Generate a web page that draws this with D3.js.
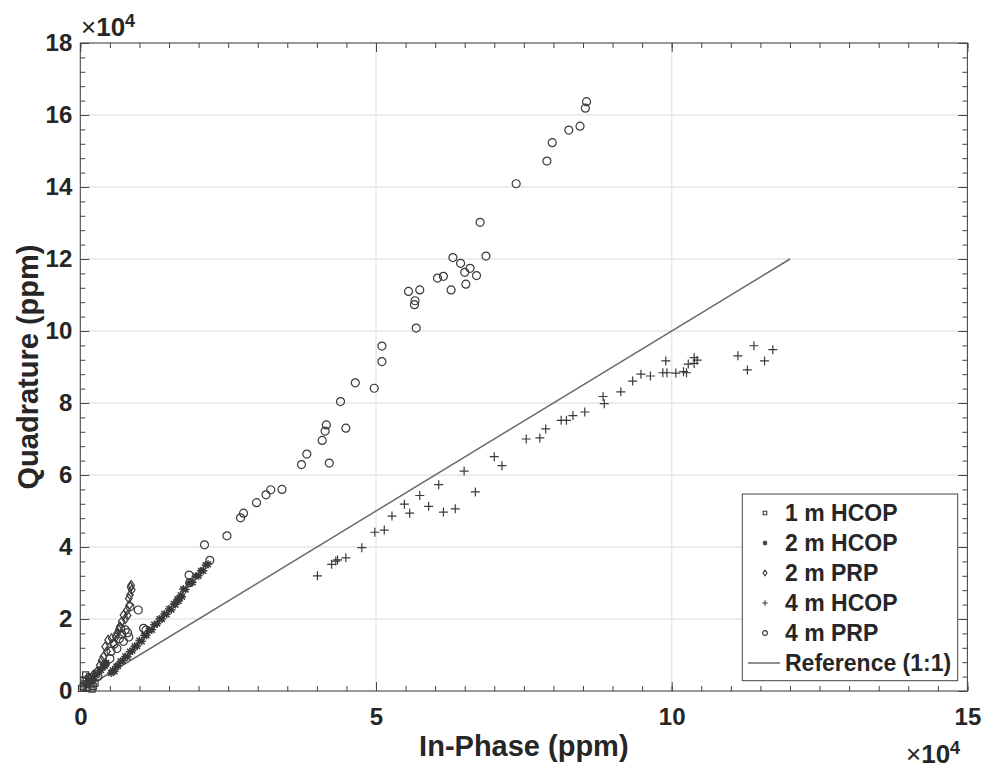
<!DOCTYPE html>
<html>
<head>
<meta charset="utf-8">
<script src="https://cdn.jsdelivr.net/npm/d3@7/dist/d3.min.js"></script>
<style>
  body { margin: 0; background: #fff; }
  text { font-family: "Liberation Sans", Arial, sans-serif; fill: #262626; }
</style>
</head>
<body>
<svg id="chart" width="986" height="770"></svg>
<script>
// all values in units of 1e4 ppm (axes show x10^4)
const hcop1X = [0.02, 0.05, 0.08, 0.10, 0.12, 0.14, 0.16, 0.18, 0.19, 0.22, 0.25, 0.09, 0.06, 0.20];
const hcop1Y = [0.07, 0.12, 0.20, 0.28, 0.10, 0.35, 0.40, 0.17, 0.30, 0.12, 0.22, 0.45, 0.30, 0.05];

const hcop2X = [0.12, 0.18, 0.22, 0.26, 0.29, 0.32, 0.35, 0.38, 0.41, 0.44, 0.52, 0.55, 0.58, 0.61, 0.64, 0.68, 0.72, 0.76, 0.80, 0.84, 0.88, 0.92, 0.96, 1.00, 1.04, 1.08, 1.12, 1.16, 1.21, 1.25, 1.30, 1.34, 1.38, 1.42, 1.46, 1.50, 1.54, 1.58, 1.61, 1.64, 1.66, 1.68, 1.70, 1.72, 1.74, 1.78, 1.84, 1.90, 1.95, 2.00, 2.04, 2.08, 2.12, 2.16];
const hcop2Y = [0.20, 0.30, 0.33, 0.44, 0.47, 0.57, 0.58, 0.67, 0.70, 0.78, 0.50, 0.58, 0.55, 0.68, 0.70, 0.82, 0.84, 0.96, 0.95, 1.09, 1.12, 1.24, 1.25, 1.40, 1.38, 1.54, 1.55, 1.68, 1.70, 1.84, 1.87, 2.00, 2.00, 2.14, 2.13, 2.28, 2.26, 2.42, 2.40, 2.55, 2.50, 2.58, 2.66, 2.62, 2.83, 2.82, 3.00, 3.02, 3.19, 3.20, 3.34, 3.34, 3.50, 3.52];

const prp2X = [0.10, 0.16, 0.22, 0.28, 0.33, 0.36, 0.39, 0.42, 0.45, 0.47, 0.53, 0.56, 0.60, 0.62, 0.65, 0.67, 0.70, 0.73, 0.76, 0.79, 0.80, 0.82, 0.83, 0.84, 0.86, 0.87, 0.85];
const prp2Y = [0.20, 0.35, 0.45, 0.54, 0.72, 0.85, 0.95, 1.23, 1.10, 1.42, 1.46, 1.32, 1.50, 1.60, 1.70, 1.79, 1.93, 2.11, 2.00, 2.25, 2.10, 2.57, 2.39, 2.67, 2.94, 2.81, 2.88];

const hcop4X = [4.01, 4.25, 4.32, 4.35, 4.49, 4.76, 4.98, 5.14, 5.27, 5.48, 5.57, 5.74, 5.89, 6.06, 6.14, 6.34, 6.49, 6.68, 7.00, 7.13, 7.54, 7.77, 7.87, 8.13, 8.22, 8.33, 8.53, 8.84, 8.86, 9.14, 9.34, 9.48, 9.64, 9.85, 9.90, 9.92, 10.07, 10.20, 10.25, 10.28, 10.38, 10.38, 10.43, 11.12, 11.39, 11.28, 11.57, 11.71];
const hcop4Y = [3.20, 3.52, 3.61, 3.64, 3.70, 3.98, 4.41, 4.47, 4.86, 5.19, 4.94, 5.43, 5.13, 5.73, 4.97, 5.06, 6.11, 5.53, 6.51, 6.26, 7.00, 7.03, 7.28, 7.52, 7.52, 7.65, 7.75, 8.18, 7.98, 8.31, 8.61, 8.80, 8.75, 8.84, 9.17, 8.84, 8.83, 8.87, 8.84, 9.08, 9.26, 9.10, 9.19, 9.31, 9.59, 8.92, 9.17, 9.48];

const prp4X = [0.30, 0.42, 0.50, 0.52, 0.57, 0.62, 0.66, 0.70, 0.73, 0.76, 0.80, 0.68, 0.82, 1.07, 0.98, 0.84, 1.11, 1.84, 1.85, 2.19, 2.10, 2.48, 2.71, 2.76, 2.98, 3.14, 3.22, 3.41, 3.74, 3.83, 4.21, 4.09, 4.14, 4.16, 4.49, 4.40, 4.97, 4.65, 5.10, 5.10, 5.68, 5.65, 5.66, 5.74, 5.55, 6.14, 6.04, 6.27, 6.52, 6.70, 6.50, 6.59, 6.43, 6.30, 6.86, 6.76, 7.37, 7.89, 7.98, 8.26, 8.45, 8.54, 8.56];
const prp4Y = [0.40, 0.75, 0.90, 1.10, 1.30, 1.18, 1.45, 1.58, 1.38, 1.70, 1.62, 1.75, 1.50, 1.74, 2.25, 2.34, 1.69, 3.22, 3.01, 3.63, 4.06, 4.31, 4.81, 4.94, 5.23, 5.45, 5.59, 5.60, 6.29, 6.58, 6.33, 6.96, 7.22, 7.39, 7.30, 8.04, 8.41, 8.56, 9.15, 9.58, 10.08, 10.73, 10.84, 11.14, 11.10, 11.52, 11.47, 11.14, 11.30, 11.54, 11.63, 11.74, 11.88, 12.04, 12.08, 13.02, 14.09, 14.72, 15.23, 15.58, 15.69, 16.19, 16.37];

const refX = [0, 12];
const refY = [0, 12];

const seriesNames = ['1 m HCOP', '2 m HCOP', '2 m PRP', '4 m HCOP', '4 m PRP'];
const xTicks = [0, 5, 10, 15];
const yTicks = [0, 2, 4, 6, 8, 10, 12, 14, 16, 18];

const width = 986;
const height = 770;
const margin = { top: 43, right: 18.6, bottom: 79, left: 80.3 };

const svg = d3.select('#chart');
svg.append('rect').attr('width', width).attr('height', height).attr('fill', '#fff');

const x = d3.scaleLinear().domain([0, 15]).range([margin.left, width - margin.right]);
const y = d3.scaleLinear().domain([0, 18]).range([height - margin.bottom, margin.top]);

const xMinor = d3.range(0, 15.01, 0.5);
const yMinor = d3.range(0, 18.01, 0.4);

// grid
svg.append('g').selectAll('line').data(xTicks).enter().append('line')
  .attr('x1', (d) => x(d)).attr('x2', (d) => x(d))
  .attr('y1', y(0)).attr('y2', y(18))
  .attr('stroke', '#e6e6e6').attr('stroke-width', 1.3);
svg.append('g').selectAll('line').data(yTicks).enter().append('line')
  .attr('x1', x(0)).attr('x2', x(15))
  .attr('y1', (d) => y(d)).attr('y2', (d) => y(d))
  .attr('stroke', '#e6e6e6').attr('stroke-width', 1.3);

// axes, ticks pointing inward on all four sides
function styleAxis(g) {
  g.select('.domain').remove();
  g.selectAll('line').attr('stroke', '#444').attr('stroke-width', 1);
  g.selectAll('text').attr('font-size', 24).attr('font-weight', 'bold').attr('fill', '#262626');
}
const H = height - margin.bottom;
const W = width - margin.right;

svg.append('g').attr('transform', `translate(0,${H})`)
  .call(d3.axisBottom(x).tickValues(xMinor).tickSize(-5).tickFormat(''))
  .call(styleAxis);
svg.append('g').attr('transform', `translate(0,${H})`)
  .call(d3.axisBottom(x).tickValues(xTicks).tickSize(-9).tickPadding(17).tickFormat(d3.format('d')))
  .call(styleAxis);
svg.append('g').attr('transform', `translate(0,${margin.top})`)
  .call(d3.axisTop(x).tickValues(xMinor).tickSize(-5).tickFormat(''))
  .call(styleAxis);
svg.append('g').attr('transform', `translate(0,${margin.top})`)
  .call(d3.axisTop(x).tickValues(xTicks).tickSize(-9).tickFormat(''))
  .call(styleAxis);
svg.append('g').attr('transform', `translate(${margin.left},0)`)
  .call(d3.axisLeft(y).tickValues(yMinor).tickSize(-5).tickFormat(''))
  .call(styleAxis);
svg.append('g').attr('transform', `translate(${margin.left},0)`)
  .call(d3.axisLeft(y).tickValues(yTicks).tickSize(-9).tickPadding(8).tickFormat(d3.format('d')))
  .call(styleAxis);
svg.append('g').attr('transform', `translate(${W},0)`)
  .call(d3.axisRight(y).tickValues(yMinor).tickSize(-5).tickFormat(''))
  .call(styleAxis);
svg.append('g').attr('transform', `translate(${W},0)`)
  .call(d3.axisRight(y).tickValues(yTicks).tickSize(-9).tickFormat(''))
  .call(styleAxis);

// box
svg.append('rect')
  .attr('x', x(0)).attr('y', y(18))
  .attr('width', x(15) - x(0)).attr('height', y(0) - y(18))
  .attr('fill', 'none').attr('stroke', '#444').attr('stroke-width', 1);

// exponent labels
function expLabel(px, py) {
  const t = svg.append('text').attr('x', px).attr('y', py).attr('font-size', 26).attr('font-weight', 'bold');
  t.append('tspan').attr('font-weight', 'normal').text('×');
  t.append('tspan').text('10');
  t.append('tspan').attr('font-size', 18).attr('dy', -9).text('4');
}
expLabel(81, 36);
expLabel(906, 763);

// axis titles
svg.append('text')
  .attr('x', (x(0) + x(15)) / 2).attr('y', 756)
  .attr('text-anchor', 'middle').attr('font-size', 29).attr('font-weight', 'bold')
  .text('In-Phase (ppm)');
svg.append('text')
  .attr('transform', `translate(38,${(y(0) + y(18)) / 2}) rotate(-90)`)
  .attr('text-anchor', 'middle').attr('font-size', 29).attr('font-weight', 'bold')
  .text('Quadrature (ppm)');

// reference line
const line = d3.line().x((d) => x(d[0])).y((d) => y(d[1]));
svg.append('path')
  .datum(refX.map((v, i) => [v, refY[i]]))
  .attr('d', line)
  .attr('fill', 'none').attr('stroke', '#6a6a6a').attr('stroke-width', 1.5);

// marker shapes
const markerPath = {
  square: (s) => `M${-3 * s},${-3 * s}h${6 * s}v${6 * s}h${-6 * s}Z`,
  asterisk: (s) => `M${-4 * s},0H${4 * s}M0,${-4 * s}V${4 * s}M${-2.9 * s},${-2.9 * s}L${2.9 * s},${2.9 * s}M${-2.9 * s},${2.9 * s}L${2.9 * s},${-2.9 * s}`,
  diamond: (s) => `M0,${-4.6 * s}L${3.3 * s},0L0,${4.6 * s}L${-3.3 * s},0Z`,
  plus: (s) => `M${-4.5 * s},0H${4.5 * s}M0,${-4.5 * s}V${4.5 * s}`,
  circle: (s) => d3.symbol(d3.symbolCircle, Math.PI * 4 * s * 4 * s)(),
};
const markerTypes = ['square', 'asterisk', 'diamond', 'plus', 'circle'];
const seriesX = [hcop1X, hcop2X, prp2X, hcop4X, prp4X];
const seriesY = [hcop1Y, hcop2Y, prp2Y, hcop4Y, prp4Y];

seriesX.forEach((xs, k) => {
  const pts = xs.map((v, i) => [v, seriesY[k][i]]);
  svg.append('g').selectAll('path').data(pts).enter().append('path')
    .attr('transform', (d) => `translate(${x(d[0])},${y(d[1])})`)
    .attr('d', markerPath[markerTypes[k]](1))
    .attr('fill', 'none')
    .attr('stroke', '#3a3a3a')
    .attr('stroke-width', markerTypes[k] === 'asterisk' ? 1.5 : 1.2);
});

// legend
const lg = svg.append('g');
lg.append('rect')
  .attr('x', 742.3).attr('y', 494).attr('width', 215.4).attr('height', 186.7)
  .attr('fill', '#fff').attr('stroke', '#444').attr('stroke-width', 1);
seriesNames.forEach((name, i) => {
  const cy = 513 + i * 30;
  lg.append('path')
    .attr('transform', `translate(765,${cy})`)
    .attr('d', markerPath[markerTypes[i]](0.6))
    .attr('fill', 'none').attr('stroke', '#3a3a3a').attr('stroke-width', 1.1);
  lg.append('text').attr('x', 785).attr('y', cy + 8)
    .attr('font-size', 23).attr('font-weight', 'bold').text(name);
});
lg.append('line').attr('x1', 748).attr('x2', 780).attr('y1', 663).attr('y2', 663)
  .attr('stroke', '#6a6a6a').attr('stroke-width', 1.5);
lg.append('text').attr('x', 785).attr('y', 671)
  .attr('font-size', 23).attr('font-weight', 'bold').text('Reference (1:1)');
</script>
</body>
</html>
